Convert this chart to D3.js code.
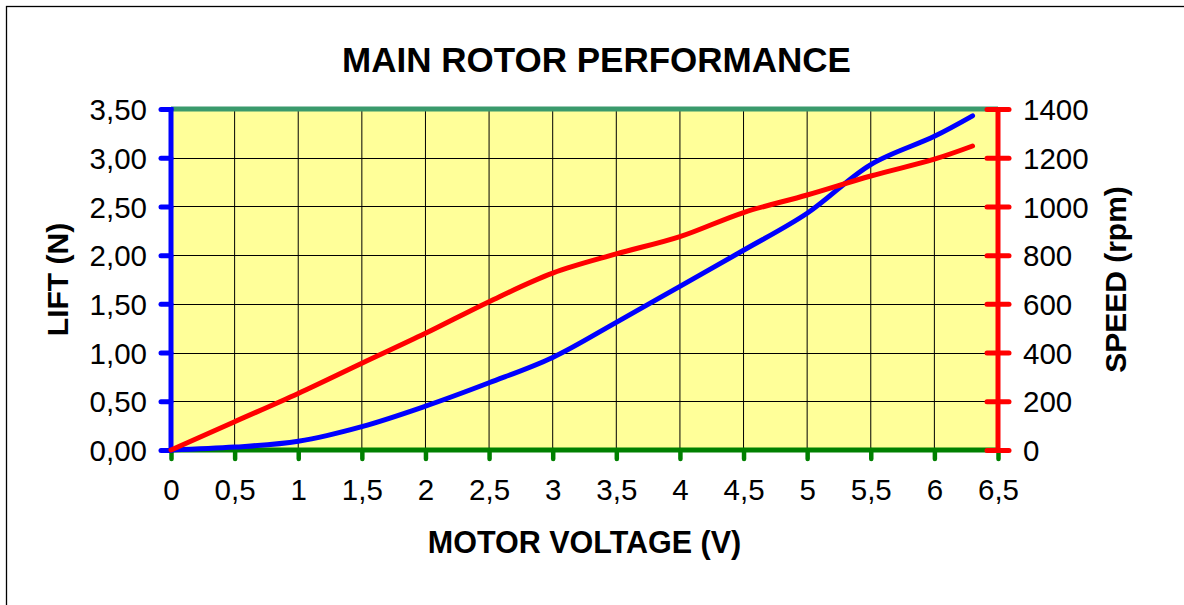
<!DOCTYPE html>
<html><head><meta charset="utf-8">
<script src="https://cdn.jsdelivr.net/npm/d3@7"></script>
<style>html,body{margin:0;padding:0;background:#fff;}svg{display:block;}</style>
</head><body>
<script>
const voltage = [0, 0.5, 1, 1.5, 2, 2.5, 3, 3.5, 4, 4.5, 5, 5.5, 6, 6.3];
const lift    = [0, 0.03, 0.09, 0.24, 0.45, 0.69, 0.95, 1.31, 1.68, 2.05, 2.43, 2.93, 3.22, 3.43];
const speed   = [0, 116, 232, 356, 479, 609, 726, 805, 876, 975, 1047, 1125, 1194, 1248];
const xTicks = [0,0.5,1,1.5,2,2.5,3,3.5,4,4.5,5,5.5,6,6.5];
const liftTicks = [0,0.5,1,1.5,2,2.5,3,3.5];
const speedTicks = [0,200,400,600,800,1000,1200,1400];
const title = "MAIN ROTOR PERFORMANCE";
const xTitle = "MOTOR VOLTAGE (V)";
const yTitle = "LIFT (N)";
const y2Title = "SPEED (rpm)";

const W = 1184, H = 605;
const L = 171, R = 998, T = 109, B = 450;
const font = "'Liberation Sans', Arial, sans-serif";
const comma = d => String(d).replace('.', ',');

const svg = d3.select("body").append("svg").attr("width", W).attr("height", H);
svg.append("rect").attr("x",6.5).attr("y",6.5).attr("width",1300).attr("height",800)
  .attr("fill","#fff").attr("stroke","#000").attr("stroke-width",1.3);

const x = d3.scaleLinear().domain([0,6.5]).range([L,R]);
const y = d3.scaleLinear().domain([0,3.5]).range([B,T]);
const y2 = d3.scaleLinear().domain([0,1400]).range([B,T]);

svg.append("rect").attr("x",L).attr("y",T).attr("width",R-L).attr("height",B-T).attr("fill","#FFFF99");

// gridlines
const g = svg.append("g");
g.selectAll("line.v").data(xTicks).join("line")
  .attr("x1",d=>x(d)).attr("x2",d=>x(d)).attr("y1",T).attr("y2",B)
  .attr("stroke","#000").attr("stroke-width",1);
g.selectAll("line.h").data(liftTicks).join("line")
  .attr("x1",L).attr("x2",R).attr("y1",d=>Math.round(y(d))+0.5).attr("y2",d=>Math.round(y(d))+0.5)
  .attr("stroke","#000").attr("stroke-width",1);

// top border line
svg.append("line").attr("x1",L).attr("x2",R).attr("y1",T).attr("y2",T)
  .attr("stroke","#3A9A6C").attr("stroke-width",5);

// bottom axis
const xa = svg.append("g").attr("transform",`translate(0,${B})`)
  .call(d3.axisBottom(x).tickValues(xTicks).tickSize(9).tickPadding(20).tickFormat(comma));
xa.select(".domain").remove();
xa.selectAll(".tick line").attr("stroke","#008000").attr("stroke-width",4.5).attr("stroke-linecap","round");
xa.selectAll(".tick text").attr("font-family",font).attr("font-size",29.5).attr("fill","#000");
svg.append("line").attr("x1",L).attr("x2",R).attr("y1",B).attr("y2",B)
  .attr("stroke","#008000").attr("stroke-width",5);

// left axis
const ya = svg.append("g").attr("transform",`translate(${L},0)`)
  .call(d3.axisLeft(y).tickValues(liftTicks).tickSize(10).tickPadding(14).tickFormat(d3.format(".2f")));
ya.select(".domain").remove();
ya.selectAll(".tick line").attr("stroke","#0000FF").attr("stroke-width",5).attr("stroke-linecap","round");
ya.selectAll(".tick text").text(d=>d3.format(".2f")(d).replace('.',','))
  .attr("font-family",font).attr("font-size",29.5).attr("fill","#000").attr("dy","0.36em");
svg.append("line").attr("x1",L).attr("x2",L).attr("y1",T-2).attr("y2",B)
  .attr("stroke","#0000FF").attr("stroke-width",5);

// curves
const line = d3.line().curve(d3.curveCatmullRom.alpha(0.5));
svg.append("path").attr("d", line(voltage.map((v,i)=>[x(v), y(lift[i])])))
  .attr("fill","none").attr("stroke","#0000FF").attr("stroke-width",5).attr("stroke-linecap","round");
svg.append("path").attr("d", line(voltage.map((v,i)=>[x(v), y2(speed[i])])))
  .attr("fill","none").attr("stroke","#FF0000").attr("stroke-width",5).attr("stroke-linecap","round");

// right axis
const y2a = svg.append("g").attr("transform",`translate(${R},0)`)
  .call(d3.axisRight(y2).tickValues(speedTicks).tickSize(11).tickPadding(14).tickFormat(d => String(d)));
y2a.select(".domain").remove();
y2a.selectAll(".tick line").attr("x1",-11).attr("stroke","#FF0000").attr("stroke-width",5).attr("stroke-linecap","round");
y2a.selectAll(".tick text").attr("font-family",font).attr("font-size",29.5).attr("fill","#000").attr("dy","0.36em");
svg.append("line").attr("x1",R).attr("x2",R).attr("y1",T-2).attr("y2",B+2)
  .attr("stroke","#FF0000").attr("stroke-width",5);

// titles
svg.append("text").attr("x",(L+R)/2+12).attr("y",72).attr("text-anchor","middle")
  .attr("font-family",font).attr("font-weight","bold").attr("font-size",35).text(title);
svg.append("text").attr("x",(L+R)/2).attr("y",553).attr("text-anchor","middle")
  .attr("font-family",font).attr("font-weight","bold").attr("font-size",30.5).text(xTitle);
svg.append("text").attr("transform",`translate(68,${(T+B)/2}) rotate(-90)`).attr("text-anchor","middle")
  .attr("font-family",font).attr("font-weight","bold").attr("font-size",30).text(yTitle);
svg.append("text").attr("transform",`translate(1126,${(T+B)/2}) rotate(-90)`).attr("text-anchor","middle")
  .attr("font-family",font).attr("font-weight","bold").attr("font-size",30).text(y2Title);
</script>
</body></html>
